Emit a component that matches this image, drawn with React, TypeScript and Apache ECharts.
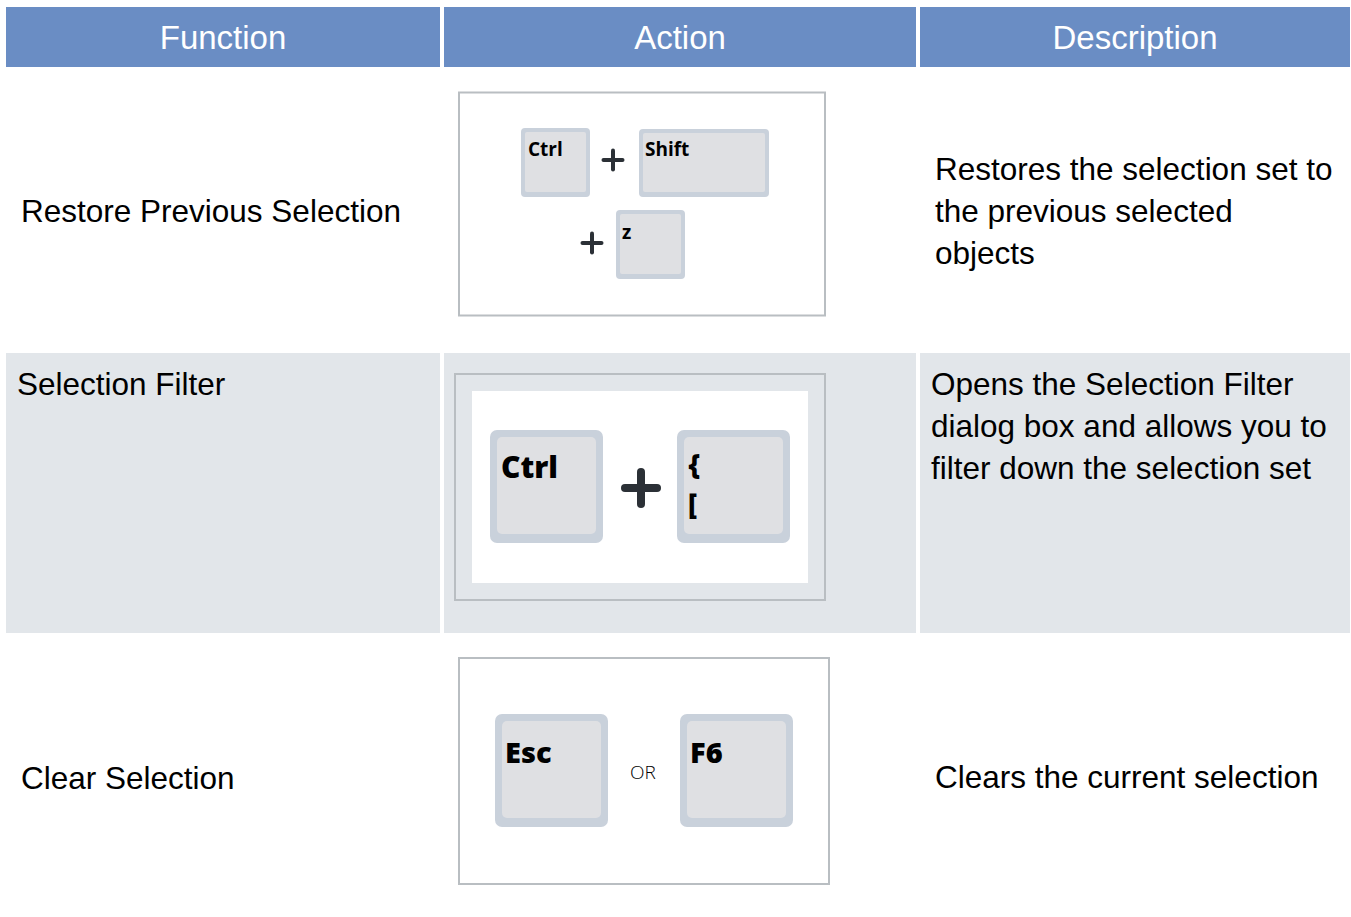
import React, { useEffect, useRef } from "react";
import * as echarts from "echarts";

// ---- content ----
const headers = ["Function", "Action", "Description"];
const functions = ["Restore Previous Selection", "Selection Filter", "Clear Selection"];
const descriptions = [
  "Restores the selection set to\nthe previous selected\nobjects",
  "Opens the Selection Filter\ndialog box and allows you to\nfilter down the selection set",
  "Clears the current selection",
];
const row1Keys = ["Ctrl", "Shift", "z"];
const row2Keys = ["Ctrl", "{", "["];
const row3Keys = ["Esc", "F6"];
const orLabel = "OR";

// ---- style ----
const W = 1351;
const H = 917;
const HEADER_BG = "#6a8dc4";
const ROW_ALT_BG = "#e2e6ea";
const KEY_OUTER = "#c9d1db";
const KEY_INNER = "#dfe0e3";
const BOX_BORDER = "#b9bec2";
const PLUS_COLOR = "#2b3036";
const TEXT_FONT = "'Liberation Sans', Arial, Helvetica, sans-serif";
const KEY_FONT = "'Open Sans', 'DejaVu Sans', sans-serif";
const BODY_SIZE = 31.5;
const HEADER_SIZE = 33;

const cols: [number, number][] = [
  [6, 440],
  [444, 916],
  [920, 1350],
];

function keyCap(x: number, y: number, w: number, h: number, inset: number, bottom: number, r: number) {
  return [
    { type: "rect", shape: { x, y, width: w, height: h, r }, style: { fill: KEY_OUTER } },
    {
      type: "rect",
      shape: { x: x + inset, y: y + inset, width: w - 2 * inset, height: h - inset - bottom, r: Math.max(2, r - 2) },
      style: { fill: KEY_INNER },
    },
  ];
}

function keyText(x: number, y: number, text: string, size: number, weight: any = 800) {
  return {
    type: "text",
    x,
    y,
    style: {
      text,
      fill: "#000",
      fontSize: size,
      fontWeight: weight,
      fontFamily: KEY_FONT,
      align: "left",
      verticalAlign: "middle",
    },
  };
}

function plus(cx: number, cy: number, size: number, thick: number) {
  const half = size / 2;
  return [
    {
      type: "line",
      shape: { x1: cx - half + thick / 2, y1: cy, x2: cx + half - thick / 2, y2: cy },
      style: { stroke: PLUS_COLOR, lineWidth: thick, lineCap: "round" },
    },
    {
      type: "line",
      shape: { x1: cx, y1: cy - half + thick / 2, x2: cx, y2: cy + half - thick / 2 },
      style: { stroke: PLUS_COLOR, lineWidth: thick, lineCap: "round" },
    },
  ];
}

function bodyText(x: number, y: number, text: string, va: string = "middle") {
  return {
    type: "text",
    x,
    y,
    style: {
      text,
      fill: "#000",
      fontSize: BODY_SIZE,
      fontFamily: TEXT_FONT,
      lineHeight: 42,
      align: "left",
      verticalAlign: va,
    },
  };
}

function buildGraphic() {
  const els: any[] = [];
  els.push({ type: "rect", shape: { x: 0, y: 0, width: W, height: H }, style: { fill: "#fff" } });

  // header
  cols.forEach(([a, b], i) => {
    els.push({ type: "rect", shape: { x: a, y: 7, width: b - a, height: 60 }, style: { fill: HEADER_BG } });
    els.push({
      type: "text",
      x: (a + b) / 2,
      y: 37,
      style: {
        text: headers[i],
        fill: "#fff",
        fontSize: HEADER_SIZE,
        fontFamily: TEXT_FONT,
        align: "center",
        verticalAlign: "middle",
      },
    });
  });

  // row 2 background
  cols.forEach(([a, b]) => {
    els.push({ type: "rect", shape: { x: a, y: 353, width: b - a, height: 280 }, style: { fill: ROW_ALT_BG } });
  });

  // function column
  els.push(bodyText(21, 211, functions[0]));
  els.push(bodyText(17, 384, functions[1]));
  els.push(bodyText(21, 778, functions[2]));

  // description column
  els.push(bodyText(935, 148, descriptions[0], "top"));
  els.push(bodyText(931, 363, descriptions[1], "top"));
  els.push(bodyText(935, 777, descriptions[2]));

  // ---- row 1 action ----
  els.push({
    type: "rect",
    shape: { x: 459, y: 92.5, width: 366, height: 223 },
    style: { fill: "#fff", stroke: BOX_BORDER, lineWidth: 2 },
  });
  els.push(...keyCap(521, 128, 69, 69, 4, 5, 4));
  els.push(...keyCap(639, 129, 130, 68, 4, 5, 4));
  els.push(...keyCap(616, 210, 69, 69, 4, 5, 4));
  els.push(keyText(528, 149, row1Keys[0], 19, "bold"));
  els.push(keyText(645, 149, row1Keys[1], 19, "bold"));
  els.push(keyText(622, 232, row1Keys[2], 19, "bold"));
  els.push(...plus(613, 160, 23, 4));
  els.push(...plus(592, 243, 23, 4));

  // ---- row 2 action ----
  els.push({
    type: "rect",
    shape: { x: 455, y: 374, width: 370, height: 226 },
    style: { fill: ROW_ALT_BG, stroke: BOX_BORDER, lineWidth: 2 },
  });
  els.push({ type: "rect", shape: { x: 472, y: 391, width: 336, height: 192 }, style: { fill: "#fff" } });
  els.push(...keyCap(490, 430, 113, 113, 7, 9, 7));
  els.push(...keyCap(677, 430, 113, 113, 7, 9, 7));
  els.push(keyText(501, 466, row2Keys[0], 30));
  els.push(keyText(688, 463, row2Keys[1], 28));
  els.push(keyText(688, 503, row2Keys[2], 28));
  els.push(...plus(641, 488, 40, 8));

  // ---- row 3 action ----
  els.push({
    type: "rect",
    shape: { x: 459, y: 658, width: 370, height: 226 },
    style: { fill: "#fff", stroke: BOX_BORDER, lineWidth: 2 },
  });
  els.push(...keyCap(495, 714, 113, 113, 7, 9, 7));
  els.push(...keyCap(680, 714, 113, 113, 7, 9, 7));
  els.push(keyText(505, 751, row3Keys[0], 29));
  els.push(keyText(690, 751, row3Keys[1], 29));
  els.push(keyText(630, 772, orLabel, 19, 300));

  return els;
}

export default function App() {
  const ref = useRef<HTMLDivElement>(null);
  useEffect(() => {
    document.body.style.margin = "0";
    const chart = echarts.init(ref.current!, null, { renderer: "svg" });
    chart.setOption({
      animation: false,
      graphic: { elements: buildGraphic() },
    });
    return () => chart.dispose();
  }, []);
  return <div ref={ref} style={{ width: W, height: H, position: "absolute", left: 0, top: 0 }} />;
}
